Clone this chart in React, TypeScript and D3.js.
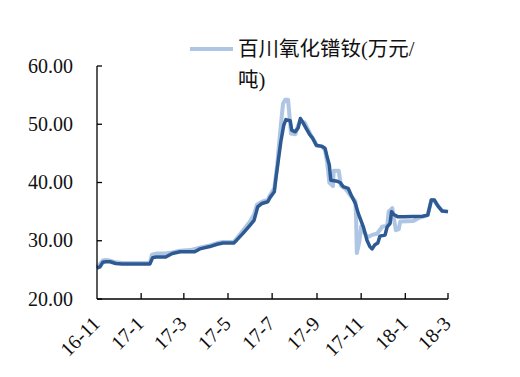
import React from "react";
import * as d3 from "d3";

const darkDates = [
  "2016-11-01","2016-11-05","2016-11-09","2016-11-13","2016-11-19","2016-11-27","2016-12-06",
  "2017-01-13","2017-01-17","2017-01-22","2017-02-04","2017-02-13","2017-02-24","2017-03-10",
  "2017-03-16","2017-03-23","2017-04-06","2017-04-16","2017-04-24","2017-05-09","2017-05-13",
  "2017-05-22","2017-05-31","2017-06-06","2017-06-11","2017-06-17","2017-06-25","2017-06-28",
  "2017-07-04","2017-07-06","2017-07-09","2017-07-13","2017-07-17","2017-07-20","2017-07-26",
  "2017-07-28","2017-08-02","2017-08-06","2017-08-09","2017-08-13","2017-08-17","2017-08-22",
  "2017-08-26","2017-08-31","2017-09-08","2017-09-12","2017-09-15","2017-09-18","2017-09-20",
  "2017-09-29","2017-10-03","2017-10-07","2017-10-14","2017-10-18","2017-10-24","2017-10-28",
  "2017-11-04","2017-11-09","2017-11-13","2017-11-16","2017-11-20","2017-11-24","2017-11-27",
  "2017-12-04","2017-12-07","2017-12-11","2017-12-13","2017-12-16","2017-12-22","2017-12-29",
  "2018-01-25","2018-02-01","2018-02-06","2018-02-10","2018-02-15","2018-02-21","2018-03-01"
];
const darkValues = [
  25.3,25.5,26.3,26.4,26.4,26.1,26.0,
  26.0,27.1,27.2,27.2,27.8,28.1,28.1,
  28.1,28.6,29.0,29.4,29.6,29.6,30.1,
  31.3,32.6,33.5,35.8,36.4,36.7,37.4,
  38.4,40.5,43.3,47.0,49.8,50.8,50.6,
  49.0,48.7,49.4,51.0,50.2,49.3,48.2,
  47.6,46.4,46.2,45.9,44.4,43.0,40.4,
  40.2,40.0,39.3,39.0,37.9,36.4,34.7,
  32.4,30.1,29.0,28.6,29.3,29.6,30.8,
  31.0,32.4,33.0,35.0,34.5,34.1,34.1,
  34.2,34.4,37.0,37.0,36.0,35.1,35.0
];

const lightDates = [
  "2016-11-01","2016-11-05","2016-11-09","2016-11-13","2016-11-19","2016-11-27","2016-12-06",
  "2017-01-13","2017-01-16","2017-01-22","2017-02-04","2017-02-13","2017-02-24","2017-03-10",
  "2017-03-23","2017-04-06","2017-04-16","2017-04-24","2017-05-09","2017-05-13","2017-05-22",
  "2017-05-31","2017-06-06","2017-06-10","2017-06-17","2017-06-25","2017-06-28","2017-07-04",
  "2017-07-08","2017-07-12","2017-07-16","2017-07-19","2017-07-23","2017-07-26","2017-07-27",
  "2017-08-02","2017-08-06","2017-08-09","2017-08-15","2017-08-20","2017-08-24","2017-08-28",
  "2017-09-01","2017-09-08","2017-09-12","2017-09-15","2017-09-18","2017-09-23","2017-09-24",
  "2017-10-01","2017-10-04","2017-10-11","2017-10-17","2017-10-24","2017-10-25","2017-10-26",
  "2017-10-29","2017-11-01","2017-11-05","2017-11-10","2017-11-16","2017-11-23","2017-11-30",
  "2017-12-07","2017-12-09","2017-12-14","2017-12-16","2017-12-19","2017-12-23","2017-12-25",
  "2018-01-12","2018-01-21","2018-01-27","2018-02-01","2018-02-06","2018-02-10","2018-02-15",
  "2018-02-21","2018-03-01"
];
const lightValues = [
  25.5,26.0,26.6,26.7,26.6,26.3,26.2,
  26.2,27.6,27.8,27.8,28.0,28.3,28.4,
  28.8,29.2,29.6,29.8,29.8,30.4,31.8,
  33.2,34.5,36.2,36.7,37.0,37.8,39.0,
  43.0,48.5,53.5,54.2,54.2,50.0,48.4,
  48.3,49.8,50.6,50.3,49.0,48.0,47.2,
  46.3,46.2,45.6,43.5,40.0,39.4,42.0,
  42.0,39.5,38.8,37.8,36.8,34.0,27.9,
  29.5,32.5,31.5,30.6,31.0,31.2,32.4,
  32.6,35.0,35.6,34.0,31.8,32.0,33.3,
  33.4,34.0,34.2,34.4,37.0,37.0,36.0,
  35.1,35.0
];

const yTicks = [20, 30, 40, 50, 60];
const xTickDates = ["2016-11-01","2017-01-01","2017-03-01","2017-05-01","2017-07-01","2017-09-01","2017-11-01","2018-01-01","2018-03-01"];
const xTickLabels = ["16-11","17-1","17-3","17-5","17-7","17-9","17-11","18-1","18-3"];
const legendLines = ["百川氧化镨钕(万元/", "吨)"];

const parse = d3.timeParse("%Y-%m-%d");

export default function App() {
  const left = 97, right = 448, top = 66, bottom = 299;
  const x = d3.scaleTime()
    .domain([parse("2016-11-01")!, parse("2018-03-01")!])
    .range([left, right]);
  const y = d3.scaleLinear().domain([20, 60]).range([bottom, top]);

  const line = d3.line<[Date, number]>()
    .x((d) => x(d[0]))
    .y((d) => y(d[1]));

  const dark: [Date, number][] = darkDates.map((d, i) => [parse(d)!, darkValues[i]]);
  const light: [Date, number][] = lightDates.map((d, i) => [parse(d)!, lightValues[i]]);

  const font = "'Liberation Serif', 'Times New Roman', 'Noto Sans CJK SC', serif";
  const lightColor = "#aec5e3";
  const darkColor = "#2e5a94";

  return (
    <svg width={520} height={377} style={{ position: "absolute", left: 0, top: 0, background: "#fff" }}>
      <path d={line(light) || ""} fill="none" stroke={lightColor} strokeWidth={4} strokeLinejoin="round" />
      <path d={line(dark) || ""} fill="none" stroke={darkColor} strokeWidth={3.5} strokeLinejoin="round" />

      {/* axes */}
      <line x1={left} x2={left} y1={top} y2={bottom} stroke="#000" strokeWidth={1.3} />
      <line x1={left} x2={right} y1={bottom} y2={bottom} stroke="#000" strokeWidth={1.3} />
      {yTicks.map((t) => (
        <g key={t}>
          <line x1={left} x2={left + 5} y1={y(t)} y2={y(t)} stroke="#000" strokeWidth={1.3} />
          <text x={73} y={y(t) + 6.5} textAnchor="end" fontFamily={font} fontSize={20} fill="#111">
            {d3.format(".2f")(t)}
          </text>
        </g>
      ))}
      {xTickDates.map((d, i) => {
        const tx = x(parse(d)!);
        return (
          <g key={d}>
            {i > 0 && <line x1={tx} x2={tx} y1={bottom} y2={bottom - 6} stroke="#000" strokeWidth={1.3} />}
            <text
              transform={`translate(${tx + 4},${bottom + 26}) rotate(-45)`}
              textAnchor="end"
              fontFamily={font}
              fontSize={20}
              fill="#111"
            >
              {xTickLabels[i]}
            </text>
          </g>
        );
      })}

      {/* legend */}
      <line x1={190} x2={233} y1={49} y2={49} stroke={lightColor} strokeWidth={4} />
      {legendLines.map((t, i) => (
        <text key={i} x={238} y={56 + i * 31} fontFamily={font} fontSize={20.5} fill="#111">
          {t}
        </text>
      ))}
    </svg>
  );
}
